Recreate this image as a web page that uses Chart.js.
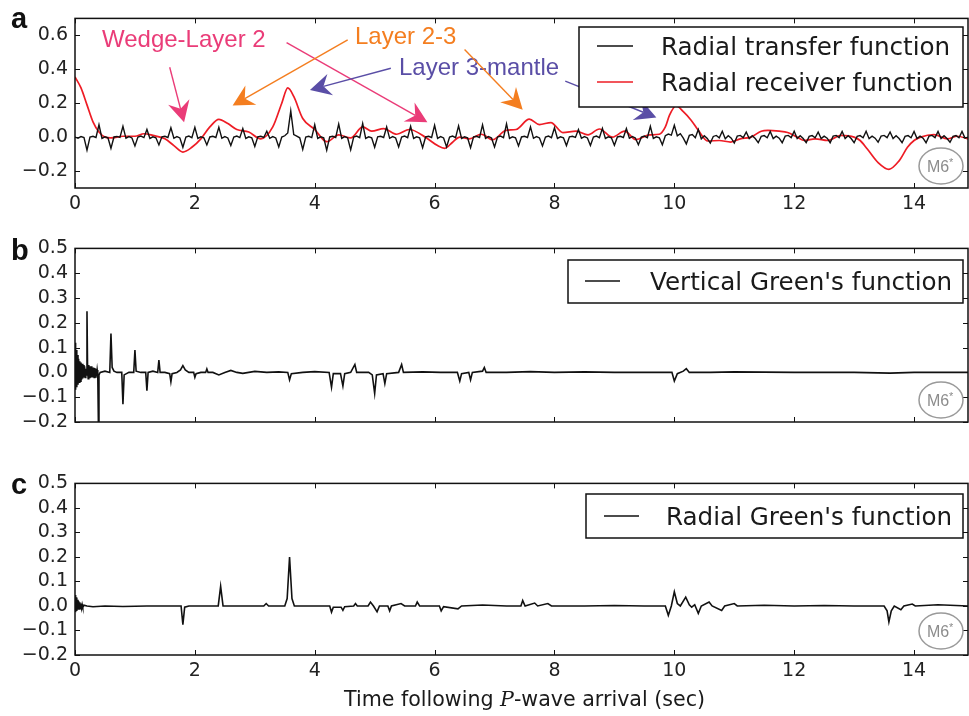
<!DOCTYPE html>
<html lang="en">
<head>
  <meta charset="UTF-8" />
  <title>Transfer, receiver and Green's functions</title>
  <script src="https://cdn.jsdelivr.net/npm/chart.js"></script>
  <style>
    body { margin: 0; background: #fff; }
    #wrap { position: relative; width: 969px; height: 716px; }
    canvas { position: absolute; left: 0; }
  </style>
</head>
<body>
  <div id="wrap">
    <canvas id="panelA" width="969" height="215" style="top:0px"></canvas>
    <canvas id="panelB" width="969" height="211" style="top:230px"></canvas>
    <canvas id="panelC" width="969" height="251" style="top:465px"></canvas>
  </div>

  <script>
    // ---- tick labels ----
    const xTicks = [0, 2, 4, 6, 8, 10, 12, 14];
    const yTicksA = [-0.2, 0.0, 0.2, 0.4, 0.6];
    const yTicksBC = [-0.2, -0.1, 0.0, 0.1, 0.2, 0.3, 0.4, 0.5];

    // ---- a: radial transfer function, sampled every 0.05 s ----
    const tfStep = 0.05;
    const tfValues = [
      0.0, -0.006, 0.003, -0.003,
      -0.077, 0.0, 0.005, -0.002, 0.073, -0.008, 0.002, -0.004,
      -0.066, 0.001, 0.004, -0.002, 0.064, -0.007, 0.003, -0.005,
      -0.052, 0.0, 0.006, -0.003, 0.045, -0.008, 0.002, -0.004,
      -0.046, 0.002, 0.005, -0.002, 0.055, -0.007, 0.003, -0.005,
      -0.06, 0.0, 0.006, -0.003, 0.058, -0.008, 0.002, -0.004,
      -0.046, 0.001, 0.005, -0.002, 0.058, -0.007, 0.003, -0.005,
      -0.05, 0.0, 0.006, -0.003, 0.05, -0.008, 0.002, -0.004,
      -0.055, 0.002, 0.005, -0.002, 0.035, -0.007, 0.003, -0.005,
      -0.058, 0.0, 0.008, 0.025, 0.155, 0.015, 0.006, -0.004,
      -0.072, 0.0, 0.005, -0.003, 0.073, -0.008, 0.002, -0.004,
      -0.077, 0.001, 0.005, -0.002, 0.077, -0.007, 0.003, -0.005,
      -0.075, 0.0, 0.006, -0.003, 0.08, -0.008, 0.002, -0.004,
      -0.06, 0.002, 0.005, -0.002, 0.06, -0.007, 0.003, -0.005,
      -0.058, 0.0, 0.006, -0.003, 0.064, -0.008, 0.002, -0.004,
      -0.062, 0.001, 0.005, -0.002, 0.07, -0.007, 0.003, -0.005,
      -0.058, 0.0, 0.006, -0.003, 0.066, -0.008, 0.002, -0.004,
      -0.062, 0.002, 0.005, -0.002, 0.072, -0.007, 0.003, -0.005,
      -0.058, 0.0, 0.006, -0.003, 0.078, -0.008, 0.002, -0.004,
      -0.052, 0.001, 0.005, -0.002, 0.06, -0.007, 0.003, -0.005,
      -0.052, 0.0, 0.006, -0.003, 0.055, -0.008, 0.002, -0.004,
      -0.05, 0.002, 0.005, -0.002, 0.045, -0.007, 0.003, -0.005,
      -0.05, 0.0, 0.006, -0.003, 0.052, -0.008, 0.002, -0.004,
      -0.048, 0.001, 0.005, -0.002, 0.05, -0.007, 0.003, -0.005,
      -0.045, 0.0, 0.006, -0.003, 0.064, -0.008, 0.002, -0.004,
      -0.045, 0.008, 0.018, 0.012, 0.07, 0.008, 0.02, -0.006,
      -0.04, 0.01, 0.015, -0.003, 0.045, -0.01, 0.008, -0.008,
      -0.035, 0.004, 0.01, -0.004, 0.035, -0.01, 0.008, -0.006,
      -0.035, 0.006, 0.01, -0.003, 0.03, -0.008, 0.008, -0.008,
      -0.033, 0.004, 0.009, -0.004, 0.033, -0.009, 0.006, -0.006,
      -0.033, 0.006, 0.01, -0.003, 0.035, -0.008, 0.008, -0.008,
      -0.033, 0.004, 0.009, -0.004, 0.03, -0.009, 0.006, -0.006,
      -0.033, 0.006, 0.01, -0.003, 0.033, -0.008, 0.008, -0.008,
      -0.033, 0.004, 0.009, -0.004, 0.035, -0.009, 0.006, -0.006,
      -0.03, 0.006, 0.01, -0.003, 0.03, -0.008, 0.008, -0.008,
      -0.033, 0.004, 0.009, -0.004, 0.033, -0.009, 0.006, -0.006,
      -0.033, 0.006, 0.01, -0.003, 0.033, -0.008, 0.008, -0.008,
      -0.03, 0.004, 0.009, -0.004, 0.033, -0.006, 0.0
    ];

    // ---- a: radial receiver function ----
    const rfTimes = [0.0, 0.1, 0.2, 0.3, 0.4, 0.5, 0.6, 0.8, 1.0, 1.15, 1.3, 1.5, 1.65, 1.8, 1.95,
      2.1, 2.25, 2.4, 2.55, 2.7, 2.9, 3.1, 3.3, 3.45, 3.55, 3.65, 3.8, 4.0, 4.2, 4.4, 4.6, 4.8,
      4.95, 5.15, 5.37, 5.58, 5.86, 6.05, 6.17, 6.3, 6.42, 6.58, 6.78, 6.97, 7.19, 7.36, 7.58,
      7.75, 7.94, 8.14, 8.36, 8.56, 8.75, 8.97, 9.17, 9.36, 9.58, 9.75, 9.85, 9.92, 10.03, 10.15,
      10.28, 10.4, 10.56, 10.75, 10.94, 11.1, 11.28, 11.45, 11.56, 11.75, 11.89, 12.05, 12.17,
      12.35, 12.56, 12.78, 13.0, 13.1, 13.22, 13.4, 13.58, 13.75, 13.89, 14.0, 14.11, 14.33,
      14.56, 14.72, 14.9];
    const rfValues = [0.355, 0.29, 0.19, 0.09, 0.03, 0.0, -0.005, 0.005, 0.005, 0.02, 0.01, -0.01, -0.05, -0.088, -0.06,
      -0.01, 0.06, 0.105, 0.08, 0.045, 0.03, -0.01, 0.06, 0.2, 0.29, 0.24, 0.11, 0.045, -0.027, 0.013, -0.005, 0.06,
      0.035, 0.05, 0.017, 0.045, -0.004, -0.05, -0.066, -0.03, 0.0, -0.01, 0.017, -0.015, 0.04, 0.045, 0.106,
      0.074, 0.086, 0.027, 0.035, 0.013, 0.048, 0.0, 0.035, -0.015, 0.013, 0.017, 0.06, 0.13, 0.185, 0.15,
      0.1, 0.04, -0.023, -0.02, -0.029, -0.01, 0.0, 0.035, 0.04, 0.035, 0.027, 0.0, -0.02,
      -0.01, -0.02, 0.01, 0.0, -0.02, -0.07, -0.15, -0.19, -0.14, -0.06, -0.02, 0.0, 0.015,
      -0.01, 0.005, -0.01];

    // ---- b: vertical Green's function ----
    const vgTimes = [0.0, 0.01, 0.02, 0.03, 0.04, 0.05, 0.06, 0.07, 0.08, 0.09, 0.1, 0.11, 0.12, 0.13, 0.14,
      0.15, 0.16, 0.17, 0.18, 0.19, 0.2, 0.21, 0.22, 0.23, 0.24, 0.25, 0.26, 0.27, 0.28, 0.29, 0.3, 0.31,
      0.32, 0.33, 0.34, 0.35, 0.36, 0.37, 0.38, 0.39, 0.4, 0.42, 0.5, 0.58, 0.6, 0.62, 0.65, 0.7, 0.78,
      0.8, 0.82, 0.9, 0.98, 1.0, 1.02, 1.1, 1.18, 1.2, 1.22, 1.3, 1.38, 1.4, 1.42, 1.5, 1.58, 1.6, 1.62,
      1.7, 1.76, 1.8, 1.84, 1.9, 1.98, 2.0, 2.02, 2.1, 2.18, 2.2, 2.22, 2.3, 2.4, 2.5, 2.6, 2.7, 2.8,
      3.0, 3.2, 3.4, 3.55, 3.58, 3.61, 3.8, 4.0, 4.24, 4.28, 4.31, 4.43, 4.47, 4.5, 4.6, 4.67, 4.7,
      4.9, 4.96, 5.0, 5.03, 5.14, 5.17, 5.2, 5.4, 5.45, 5.48, 5.8, 6.1, 6.38, 6.42, 6.45, 6.57, 6.6,
      6.63, 6.8, 6.83, 6.86, 7.2, 7.6, 8.0, 8.5, 9.0, 9.5, 9.96, 10.0, 10.05, 10.15, 10.2, 10.25,
      10.6, 11.0, 12.0, 13.0, 13.6, 14.0, 14.9];
    const vgValues = [0.12, -0.07, 0.09, -0.06, 0.07, -0.05, 0.055, -0.04, 0.045, -0.035, 0.04, -0.03, 0.035, -0.025, 0.03,
      -0.02, 0.025, -0.02, 0.015, -0.01, 0.247, 0.01, -0.025, 0.03, -0.02, 0.025, -0.02, 0.025, -0.02, 0.02, -0.02, 0.02,
      -0.02, 0.018, -0.018, 0.015, -0.015, 0.01, -0.01, -0.2, -0.01, 0.0, 0.005, 0.0, 0.157, 0.02, 0.005, 0.0, 0.0,
      -0.128, -0.01, 0.0, 0.0, 0.09, 0.005, 0.0, 0.0, -0.074, 0.0, 0.005, 0.0, 0.05, 0.0, 0.0, -0.005, -0.038, -0.005,
      0.0, 0.01, 0.027, 0.01, 0.0, 0.0, -0.02, -0.005, 0.0, 0.0, 0.014, 0.0, 0.0, -0.01, 0.0, 0.008, 0.0, -0.004,
      0.004, 0.0, 0.002, 0.0, -0.03, -0.005, 0.0, 0.003, 0.0, -0.06, -0.005, -0.005, -0.055, -0.005, 0.0, 0.032, 0.0,
      0.0, -0.01, -0.085, -0.01, -0.005, -0.045, -0.005, 0.0, 0.032, 0.0, 0.002, 0.0, 0.0, -0.035, -0.005, 0.0, -0.03,
      0.0, 0.005, 0.02, 0.0, 0.0, 0.003, 0.0, 0.002, 0.0, 0.0, 0.0, -0.035, -0.005, 0.005, 0.015, 0.0,
      0.0, 0.002, 0.0, 0.0, -0.003, 0.0, 0.0];

    // ---- c: radial Green's function ----
    const rgTimes = [0.0, 0.01, 0.02, 0.03, 0.04, 0.05, 0.06, 0.07, 0.08, 0.09, 0.1, 0.11, 0.12, 0.13, 0.15,
      0.2, 0.3, 0.5, 0.8, 1.2, 1.6, 1.77, 1.8, 1.83, 1.9, 2.2, 2.39, 2.43, 2.47, 2.8, 3.15, 3.19, 3.23,
      3.5, 3.54, 3.58, 3.62, 3.66, 4.0, 4.25, 4.28, 4.31, 4.44, 4.47, 4.5, 4.65, 4.68, 4.71, 4.89, 4.93,
      4.98, 5.04, 5.08, 5.22, 5.25, 5.28, 5.44, 5.5, 5.68, 5.71, 5.75, 6.08, 6.11, 6.15, 6.39, 6.45, 6.8,
      7.2, 7.44, 7.47, 7.51, 7.67, 7.72, 7.89, 7.95, 8.5, 9.0, 9.5, 9.85, 9.9, 9.95, 10.0, 10.05, 10.1,
      10.19, 10.25, 10.29, 10.34, 10.4, 10.45, 10.58, 10.63, 10.79, 10.84, 11.0, 11.05, 11.5, 12.0, 12.5,
      13.0, 13.5, 13.55, 13.58, 13.62, 13.67, 13.78, 13.83, 13.97, 14.02, 14.4, 14.9];
    const rgValues = [0.045, -0.025, 0.035, -0.02, 0.025, -0.015, 0.02, -0.012, 0.015, -0.01, 0.01, -0.008, 0.006, -0.005, 0.003,
      0.0, -0.003, 0.0, -0.002, 0.0, 0.0, 0.0, -0.076, -0.005, 0.0, 0.0, 0.0, 0.08, 0.0, 0.0, 0.0, 0.01, 0.0,
      0.0, 0.03, 0.2, 0.03, 0.0, 0.0, 0.0, -0.025, -0.005, -0.005, -0.018, -0.003, 0.0, 0.01, 0.0, 0.0, 0.016,
      0.0, -0.024, 0.0, 0.0, -0.02, 0.0, 0.01, 0.0, 0.0, 0.016, 0.0, 0.0, -0.02, -0.003, -0.012, 0.0, 0.004,
      0.0, 0.0, 0.022, 0.0, 0.012, 0.0, 0.01, 0.0, 0.0, 0.002, 0.0, 0.0, -0.038, 0.0, 0.058, 0.01, 0.0,
      0.036, 0.005, -0.005, 0.005, -0.03, 0.0, 0.016, 0.0, -0.018, 0.0, 0.01, 0.0, 0.003, 0.0, 0.002,
      0.0, 0.0, -0.02, -0.065, -0.02, 0.0, -0.015, 0.0, 0.008, 0.0, 0.005, 0.0];

    // ---- annotations for panel a: arrows in data units (time, amplitude) ----
    const PINK = '#ea3c78', ORANGE = '#f47e20', PURPLE = '#5a4ea6', RED = '#ee1c25';
    const arrowsA = [
      { from: [1.58, 0.412], to: [1.82, 0.087], color: PINK },
      { from: [3.53, 0.557], to: [5.88, 0.087], color: PINK },
      { from: [4.55, 0.574], to: [2.63, 0.186], color: ORANGE },
      { from: [6.5, 0.516], to: [7.47, 0.162], color: ORANGE },
      { from: [5.27, 0.406], to: [3.92, 0.278], color: PURPLE },
      { from: [8.18, 0.33], to: [9.7, 0.116], color: PURPLE }
    ];

    Chart.defaults.font.family = "'DejaVu Sans', sans-serif";
    Chart.defaults.color = '#222';

    const toPoints = (xs, ys) => ys.map((v, i) => ({ x: xs[i], y: v }));
    const fmtTick = v => (v < 0 ? '\u2212' : '') + Math.abs(v).toFixed(1);

    // matplotlib style box with inward ticks on all four sides
    const framePlugin = {
      id: 'frame',
      afterDatasetsDraw(chart) {
        const { ctx, chartArea: a, scales: { x, y } } = chart;
        ctx.save();
        ctx.strokeStyle = '#111';
        ctx.lineWidth = 1;
        ctx.beginPath();
        x.ticks.forEach(t => {
          const px = Math.round(x.getPixelForValue(t.value)) + 0.5;
          ctx.moveTo(px, a.bottom); ctx.lineTo(px, a.bottom - 5);
          ctx.moveTo(px, a.top); ctx.lineTo(px, a.top + 5);
        });
        y.ticks.forEach(t => {
          const py = Math.round(y.getPixelForValue(t.value)) + 0.5;
          ctx.moveTo(a.left, py); ctx.lineTo(a.left + 5, py);
          ctx.moveTo(a.right, py); ctx.lineTo(a.right - 5, py);
        });
        ctx.stroke();
        ctx.lineWidth = 1.5;
        ctx.strokeRect(a.left, a.top, a.right - a.left, a.bottom - a.top);
        ctx.restore();
      }
    };

    function drawArrow(ctx, x0, y0, x1, y1, color) {
      const ang = Math.atan2(y1 - y0, x1 - x0);
      const c = Math.cos(ang), s = Math.sin(ang);
      const L = 21, W = 11, N = 7;
      ctx.strokeStyle = color;
      ctx.fillStyle = color;
      ctx.lineWidth = 1.4;
      ctx.beginPath();
      ctx.moveTo(x0, y0);
      ctx.lineTo(x1 - (L - N) * c, y1 - (L - N) * s);
      ctx.stroke();
      const bx = x1 - L * c, by = y1 - L * s;
      ctx.beginPath();
      ctx.moveTo(x1, y1);
      ctx.lineTo(bx - W * s, by + W * c);
      ctx.lineTo(x1 - (L - N) * c, y1 - (L - N) * s);
      ctx.lineTo(bx + W * s, by - W * c);
      ctx.closePath();
      ctx.fill();
    }

    function drawM6(ctx, cx, cy) {
      ctx.save();
      ctx.strokeStyle = '#9a9a9a';
      ctx.lineWidth = 1.5;
      ctx.beginPath();
      ctx.ellipse(cx, cy, 22, 18, 0, 0, Math.PI * 2);
      ctx.stroke();
      ctx.fillStyle = '#8c8c8c';
      ctx.font = "16px 'Liberation Sans', sans-serif";
      ctx.textBaseline = 'alphabetic';
      ctx.textAlign = 'left';
      const w = ctx.measureText('M6').width;
      ctx.fillText('M6', cx - w / 2 - 3, cy + 6);
      ctx.font = "11px 'Liberation Sans', sans-serif";
      ctx.fillText('*', cx + w / 2 - 3, cy);
      ctx.restore();
    }

    function drawLegend(ctx, box, entries) {
      ctx.save();
      ctx.fillStyle = '#fff';
      ctx.fillRect(box.x, box.y, box.w, box.h);
      ctx.strokeStyle = '#111';
      ctx.lineWidth = 1.5;
      ctx.strokeRect(box.x, box.y, box.w, box.h);
      ctx.font = "24.6px 'DejaVu Sans', sans-serif";
      ctx.textBaseline = 'alphabetic';
      entries.forEach(e => {
        ctx.strokeStyle = e.color;
        ctx.lineWidth = 1.6;
        ctx.beginPath();
        ctx.moveTo(e.x0, e.y); ctx.lineTo(e.x1, e.y);
        ctx.stroke();
        ctx.fillStyle = '#1a1a1a';
        ctx.fillText(e.text, e.tx, e.y + 9);
      });
      ctx.restore();
    }

    function drawLetter(ctx, ch, x, y) {
      ctx.save();
      ctx.fillStyle = '#111';
      ctx.font = "bold 29px 'Liberation Sans', sans-serif";
      ctx.textBaseline = 'alphabetic';
      ctx.fillText(ch, x, y);
      ctx.restore();
    }

    function makePanel(id, cfg) {
      return new Chart(document.getElementById(id), {
        type: 'line',
        data: { datasets: cfg.datasets },
        options: {
          responsive: false,
          animation: false,
          events: [],
          layout: { padding: { top: cfg.padTop, right: 1, left: 0, bottom: 0 } },
          plugins: { legend: { display: false }, tooltip: { enabled: false } },
          elements: { point: { radius: 0 } },
          scales: {
            x: {
              type: 'linear', min: 0, max: 14.9,
              grid: { display: false, drawTicks: false },
              border: { display: false },
              afterBuildTicks: s => { s.ticks = xTicks.map(v => ({ value: v })); },
              afterFit: s => { s.height = cfg.xHeight; },
              ticks: { display: cfg.xLabels, padding: 5, autoSkip: false, maxRotation: 0,
                       font: { size: 19 }, callback: v => String(v) }
            },
            y: {
              type: 'linear', min: cfg.yMin, max: cfg.yMax,
              grid: { display: false, drawTicks: false },
              border: { display: false },
              afterBuildTicks: s => { s.ticks = cfg.yTicks.map(v => ({ value: v })); },
              afterFit: s => { s.width = 75; },
              ticks: { padding: 7, autoSkip: false, font: { size: 19 }, callback: v => fmtTick(v) }
            }
          }
        },
        plugins: [framePlugin, {
          id: 'overlay',
          afterDraw(chart) {
            const ctx = chart.ctx;
            ctx.save();
            ctx.translate(0, -cfg.top);
            cfg.overlay(ctx, chart);
            ctx.restore();
          }
        }]
      });
    }

    // ---- panel a ----
    makePanel('panelA', {
      top: 0, padTop: 15, xHeight: 27, xLabels: true,
      yMin: -0.3, yMax: 0.7, yTicks: yTicksA,
      datasets: [
        { data: tfValues.map((v, i) => ({ x: i * tfStep, y: v })), borderColor: '#111', borderWidth: 1.4, tension: 0 },
        { data: toPoints(rfTimes, rfValues), borderColor: RED, borderWidth: 1.7, cubicInterpolationMode: 'monotone' }
      ],
      overlay(ctx, chart) {
        const { x, y } = chart.scales;
        ctx.font = "24px 'Liberation Sans', sans-serif";
        ctx.textBaseline = 'alphabetic';
        ctx.fillStyle = PINK; ctx.fillText('Wedge-Layer 2', 102, 47);
        ctx.fillStyle = ORANGE; ctx.fillText('Layer 2-3', 355, 44);
        ctx.fillStyle = PURPLE; ctx.fillText('Layer 3-mantle', 399, 75);
        arrowsA.forEach(a => drawArrow(ctx,
          x.getPixelForValue(a.from[0]), y.getPixelForValue(a.from[1]),
          x.getPixelForValue(a.to[0]), y.getPixelForValue(a.to[1]), a.color));
        drawLegend(ctx, { x: 579, y: 27, w: 384, h: 80 }, [
          { color: '#111', x0: 597, x1: 633, y: 46, tx: 661, text: 'Radial transfer function' },
          { color: RED, x0: 597, x1: 633, y: 82, tx: 661, text: 'Radial receiver function' }
        ]);
        drawM6(ctx, 941, 166);
        drawLetter(ctx, 'a', 11, 28);
      }
    });

    // ---- panel b ----
    makePanel('panelB', {
      top: 230, padTop: 18, xHeight: 19, xLabels: false,
      yMin: -0.2, yMax: 0.5, yTicks: yTicksBC,
      datasets: [
        { data: toPoints(vgTimes, vgValues), borderColor: '#111', borderWidth: 1.6, tension: 0 }
      ],
      overlay(ctx) {
        drawLegend(ctx, { x: 568, y: 260, w: 395, h: 43 }, [
          { color: '#111', x0: 585, x1: 620, y: 281, tx: 650, text: "Vertical Green's function" }
        ]);
        drawM6(ctx, 941, 400);
        drawLetter(ctx, 'b', 11, 260);
      }
    });

    // ---- panel c ----
    makePanel('panelC', {
      top: 465, padTop: 17, xHeight: 61, xLabels: true,
      yMin: -0.2, yMax: 0.5, yTicks: yTicksBC,
      datasets: [
        { data: toPoints(rgTimes, rgValues), borderColor: '#111', borderWidth: 1.6, tension: 0 }
      ],
      overlay(ctx) {
        drawLegend(ctx, { x: 586, y: 494, w: 377, h: 44 }, [
          { color: '#111', x0: 604, x1: 639, y: 516, tx: 666, text: "Radial Green's function" }
        ]);
        drawM6(ctx, 941, 631);
        drawLetter(ctx, 'c', 11, 494);

        // x axis title with italic P
        const parts = [
          { t: 'Time following ', f: "20.6px 'DejaVu Sans', sans-serif" },
          { t: 'P', f: "italic 20.6px 'DejaVu Serif', serif" },
          { t: '-wave arrival (sec)', f: "20.6px 'DejaVu Sans', sans-serif" }
        ];
        let total = 0;
        parts.forEach(p => { ctx.font = p.f; p.w = ctx.measureText(p.t).width; total += p.w; });
        let px = 524.5 - total / 2;
        ctx.fillStyle = '#1a1a1a';
        ctx.textBaseline = 'alphabetic';
        parts.forEach(p => { ctx.font = p.f; ctx.fillText(p.t, px, 706); px += p.w; });
      }
    });
  </script>
</body>
</html>
